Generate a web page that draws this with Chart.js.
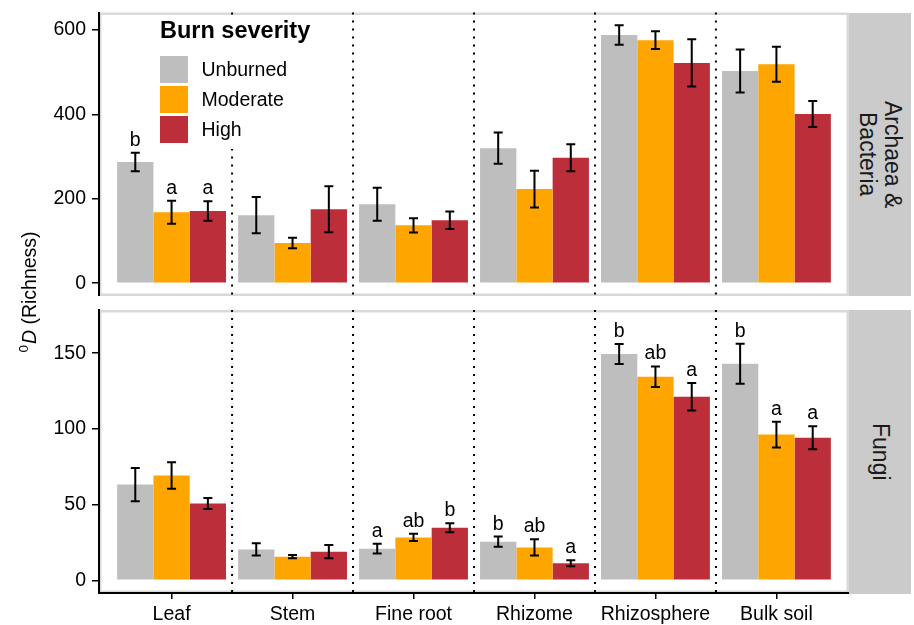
<!DOCTYPE html>
<html lang="en">
<head>
  <meta charset="UTF-8">
  <title>Richness by burn severity</title>
  <style>
    body { margin: 0; background: #fff; font-family: "Liberation Sans", Arial, sans-serif; }
    #wrap { position: relative; width: 914px; height: 625px; overflow: hidden; }
    canvas { position: absolute; left: 0; }
    .strip { position: absolute; left: 849px; width: 62px; height: 283.5px; background: #cbcbcb;
             display: flex; align-items: center; justify-content: center; }
    .strip span { writing-mode: vertical-rl; font-size: 23px; line-height: 25px; color: #1a1a1a; text-align: center; }
    #ytitle { position: absolute; left: -121px; top: 279.5px; width: 300px; height: 24px; line-height: 24px;
              text-align: center; font-size: 19.5px; color: #000; transform: rotate(-90deg); white-space: nowrap; }
    #ytitle .sup { font-size: 13.5px; position: relative; top: -8px; margin-right: 1px; }
    #legend { position: absolute; left: 150px; top: 18px; width: 168px; height: 131px; background: #fff; }
    #legend .title { position: absolute; left: 10px; top: 1.3px; font-size: 23.5px; line-height: 23.5px; font-weight: bold; color: #000; white-space: nowrap; }
    #legend .key { position: absolute; left: 10px; width: 28px; height: 27.5px; }
    #legend .lab { position: absolute; left: 51.5px; height: 27.5px; line-height: 27.5px; font-size: 19.5px; color: #000; white-space: nowrap; }
  </style>
</head>
<body>
  <div id="wrap">
    <canvas id="top" width="914" height="296" style="top:0"></canvas>
    <canvas id="bottom" width="914" height="325" style="top:300px"></canvas>
    <div class="strip" style="top:12.5px"><span>Archaea &amp;<br>Bacteria</span></div>
    <div class="strip" style="top:310px"><span>Fungi</span></div>
    <div id="ytitle"><span class="sup">0</span><i>D</i> (Richness)</div>
    <div id="legend"></div>
  </div>
  <script src="https://cdn.jsdelivr.net/npm/chart.js"></script>
  <script>
    const categories = ["Leaf", "Stem", "Fine root", "Rhizome", "Rhizosphere", "Bulk soil"];
    const severities = ["Unburned", "Moderate", "High"];
    const severityColors = ["#bebebe", "#ffa500", "#bc2e39"];

    // Archaea & Bacteria (mean, se, letters)
    const bacUnburned = [287, 161, 187, 320, 588, 503];
    const bacModerate = [168, 95, 137, 223, 576, 519];
    const bacHigh = [171, 175, 149, 297, 522, 401];
    const bacUnburnedSE = [22, 43, 39, 37, 23, 51];
    const bacModerateSE = [27, 12.5, 17, 43.5, 21, 41.5];
    const bacHighSE = [23, 54.5, 20.6, 32, 56, 31];
    const bacUnburnedLetters = ["b", "", "", "", "", ""];
    const bacModerateLetters = ["a", "", "", "", "", ""];
    const bacHighLetters = ["a", "", "", "", "", ""];
    const bacTicks = [0, 200, 400, 600];

    // Fungi
    const funUnburned = [63.2, 20.4, 20.9, 25.5, 149.5, 143];
    const funModerate = [69.2, 15.6, 28.3, 21.7, 134.4, 96.2];
    const funHigh = [50.7, 18.9, 34.7, 11.2, 121.2, 94.2];
    const funUnburnedSE = [11, 4, 3.2, 3.4, 6.6, 13.2];
    const funModerateSE = [8.7, 1.1, 2.4, 5.4, 6.8, 8.5];
    const funHighSE = [3.7, 4.4, 3, 2, 9.1, 7.6];
    const funUnburnedLetters = ["", "", "a", "b", "b", "b"];
    const funModerateLetters = ["", "", "ab", "ab", "ab", "a"];
    const funHighLetters = ["", "", "b", "a", "a", "a"];
    const funTicks = [0, 50, 100, 150];

    const FONT = '"Liberation Sans", Arial, sans-serif';

    // legend (white box hides the separator behind it, like the original)
    const legend = document.getElementById("legend");
    legend.innerHTML = '<div class="title">Burn severity</div>' +
      severities.map((name, s) =>
        `<div class="key" style="top:${37.5 + s * 30.2}px;background:${severityColors[s]}"></div>` +
        `<div class="lab" style="top:${37.5 + s * 30.2}px">${name}</div>`).join("");

    const panelDecor = {
      id: "panelDecor",
      beforeDraw(chart) {
        const { ctx, chartArea: a } = chart;
        ctx.save();
        ctx.strokeStyle = "#d9d9d9";
        ctx.lineWidth = 2.5;
        ctx.strokeRect(a.left + 1.25, a.top + 1.25, a.width - 2.5, a.height - 2.5);
        ctx.restore();
      },
      beforeDatasetsDraw(chart) {
        const { ctx, chartArea: a, scales: { x } } = chart;
        ctx.save();
        ctx.strokeStyle = "#000";
        ctx.lineWidth = 2;
        ctx.setLineDash([2, 6]);
        for (let i = 0; i < categories.length - 1; i++) {
          const px = x.getPixelForValue(i + 0.5);
          ctx.beginPath();
          ctx.moveTo(px, a.top);
          ctx.lineTo(px, a.bottom);
          ctx.stroke();
        }
        ctx.restore();
      },
      afterDatasetsDraw(chart) {
        const { ctx, scales: { y } } = chart;
        ctx.save();
        chart.data.datasets.forEach((ds, d) => {
          chart.getDatasetMeta(d).data.forEach((bar, i) => {
            const v = ds.data[i].y, se = ds.se[i];
            const hi = y.getPixelForValue(v + se), lo = y.getPixelForValue(v - se);
            ctx.strokeStyle = "#000";
            ctx.lineWidth = 2;
            ctx.beginPath();
            ctx.moveTo(bar.x, hi); ctx.lineTo(bar.x, lo);
            ctx.moveTo(bar.x - 4.5, hi); ctx.lineTo(bar.x + 4.5, hi);
            ctx.moveTo(bar.x - 4.5, lo); ctx.lineTo(bar.x + 4.5, lo);
            ctx.stroke();
            if (ds.letters[i]) {
              ctx.fillStyle = "#000";
              ctx.font = "19.5px " + FONT;
              ctx.textAlign = "center";
              ctx.textBaseline = "alphabetic";
              ctx.fillText(ds.letters[i], bar.x, hi - 7);
            }
          });
        });
        ctx.restore();
      }
    };

    function makePanel(id, means, ses, letters, yMin, yMax, yTicks, showX, pad) {
      return new Chart(document.getElementById(id), {
        type: "bar",
        data: {
          datasets: severities.map((name, s) => ({
            label: name,
            data: means[s].map((v, i) => ({ x: i, y: v })),
            se: ses[s],
            letters: letters[s],
            backgroundColor: severityColors[s],
            borderWidth: 0,
            categoryPercentage: 0.9,
            barPercentage: 1
          }))
        },
        options: {
          responsive: false,
          animation: false,
          events: [],
          layout: { padding: pad },
          plugins: { legend: { display: false }, tooltip: { enabled: false } },
          scales: {
            x: {
              type: "linear", min: -0.6, max: 5.6, display: showX, offset: false,
              afterBuildTicks: (s) => { s.ticks = categories.map((c, i) => ({ value: i })); },
              afterFit: (s) => {
                s.paddingLeft = 0; s.paddingRight = 0;
                if (showX) s.height = 32;
              },
              ticks: { autoSkip: false, maxRotation: 0, padding: 4, color: "#000",
                       font: { family: FONT, size: 19.5 }, callback: (v) => categories[v] },
              grid: { offset: false, drawOnChartArea: false, color: "#000", tickLength: 6, lineWidth: 1.5 },
              border: { color: "#000", width: 2 }
            },
            y: {
              min: yMin, max: yMax,
              afterBuildTicks: (s) => { s.ticks = yTicks.map((v) => ({ value: v })); },
              afterFit: (s) => { s.width = 99; s.paddingTop = 0; s.paddingBottom = 0; },
              ticks: { padding: 6, color: "#000", font: { family: FONT, size: 19.5 } },
              grid: { drawOnChartArea: false, color: "#000", tickLength: 7, lineWidth: 1.5 },
              border: { color: "#000", width: 2 }
            }
          }
        },
        plugins: [panelDecor]
      });
    }

    makePanel("top",
      [bacUnburned, bacModerate, bacHigh],
      [bacUnburnedSE, bacModerateSE, bacHighSE],
      [bacUnburnedLetters, bacModerateLetters, bacHighLetters],
      -30.5, 641.5, bacTicks, false, { top: 12.5, right: 65, left: 0, bottom: 0 });

    makePanel("bottom",
      [funUnburned, funModerate, funHigh],
      [funUnburnedSE, funModerateSE, funHighSE],
      [funUnburnedLetters, funModerateLetters, funHighLetters],
      -8.4, 178.5, funTicks, true, { top: 10, right: 65, left: 0, bottom: 0 });
  </script>
</body>
</html>
